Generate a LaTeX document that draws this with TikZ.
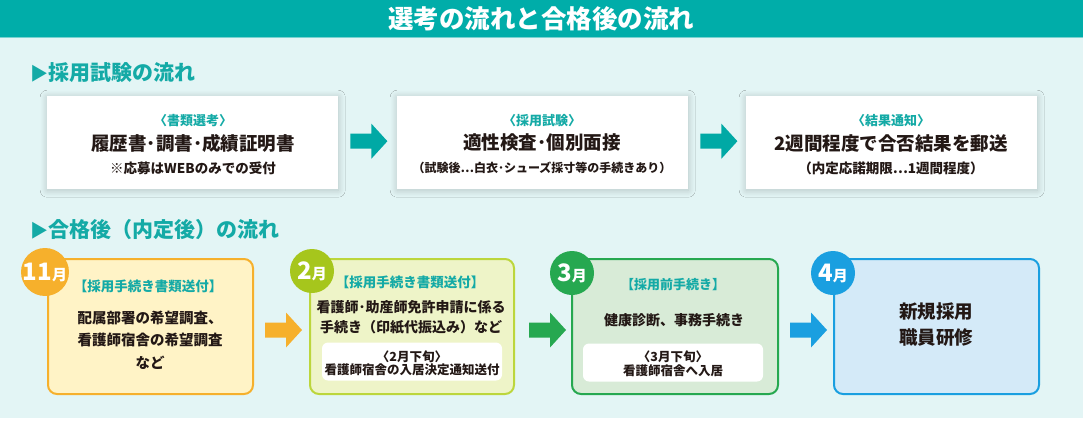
\documentclass[tikz,border=0pt]{standalone}
\usepackage{fontspec}
\setmainfont{Noto Sans CJK JP}
\usepackage{tikz}
\usetikzlibrary{calc,shadows.blur}

\definecolor{headteal}{RGB}{0,173,169}
\definecolor{headline}{RGB}{120,210,208}
\definecolor{bgcyan}{RGB}{227,245,245}
\definecolor{tealtxt}{RGB}{20,170,166}
\definecolor{ink}{RGB}{35,24,21}
\definecolor{arrteal}{RGB}{0,169,165}
\definecolor{ornfill}{RGB}{255,243,198}
\definecolor{orn}{RGB}{246,176,44}
\definecolor{lmfill}{RGB}{238,244,200}
\definecolor{lmline}{RGB}{188,214,60}
\definecolor{lm}{RGB}{166,198,28}
\definecolor{grnfill}{RGB}{216,235,215}
\definecolor{grn}{RGB}{38,168,80}
\definecolor{bluefill}{RGB}{212,234,248}
\definecolor{blu}{RGB}{26,159,224}

\tikzset{
  barrow/.pic={\fill (0,-7.5) -- (21,-7.5) -- (21,-17.5) -- (37,0) -- (21,17.5) -- (21,7.5) -- (0,7.5) -- cycle;}
}

\begin{document}
\begin{tikzpicture}[x=1pt, y=-1pt, every node/.style={inner sep=0pt, text=ink},
	head/.style={anchor=west, text=tealtxt, font=\fontsize{21}{21}\selectfont\bfseries},
	lbl/.style={text=tealtxt, font=\fontsize{13}{15}\selectfont\bfseries},
	main/.style={font=\fontsize{18.5}{20}\selectfont\bfseries},
	note/.style={font=\fontsize{13.5}{14}\selectfont\bfseries},
	card/.style={anchor=north west, fill=white, minimum width=291pt, minimum height=93pt,
		blur shadow={shadow xshift=0pt, shadow yshift=-1pt, shadow blur radius=7pt, shadow blur steps=10, shadow opacity=20}},
	stage/.style={anchor=north west, rounded corners=9pt, line width=2pt, minimum width=205pt, minimum height=135pt},
	badge/.style={circle, minimum size=44pt, text=white, font=\bfseries},
	memo/.style={fill=white, rounded corners=6pt, minimum width=180pt, minimum height=38pt},
	body/.style={align=center, font=\fontsize{14.5}{22.5}\selectfont\bfseries}]
	\useasboundingbox (0,0) rectangle (1083,421);
	\fill[bgcyan] (0,0) rectangle (1083,418);
	\fill[headteal] (0,0) rectangle (1083,37);
	\draw[headline, line width=1pt] (0,37.5) -- (1083,37.5);
	\node[text=white, font=\fontsize{25.5}{25}\selectfont\bfseries] (title) at (541,19) {選考の流れと合格後の流れ};

	% 採用試験
	\node[head] (h1) at (30,73) {{\fontsize{18}{18}\selectfont ▶}採用試験の流れ};
	\node[card] (card1) at (47,96) {};
	\node[card] (card2) at (397,96) {};
	\node[card] (card3) at (746,96) {};
	\node[lbl] (c1t) at (193,121) {〈書類選考〉};
	\node[main] (c1m) at (193,143) {履歴書･調書･成績証明書};
	\node[note] (c1s) at (193,168) {※応募はWEBのみでの受付};
	\node[lbl] (c2t) at (542,121) {〈採用試験〉};
	\node[main] (c2m) at (542,143) {適性検査･個別面接};
	\node[note, font=\fontsize{12}{14}\selectfont\bfseries] (c2s) at (542,168) {（試験後…白衣･シューズ採寸等の手続きあり）};
	\node[lbl] (c3t) at (891,121) {〈結果通知〉};
	\node[main] (c3m) at (891,143) {2週間程度で合否結果を郵送};
	\node[note] (c3s) at (891,168) {（内定応諾期限…1週間程度）};
	\pic[color=arrteal] at ($(card1.east)+(12,-1.5)$) {barrow};
	\pic[color=arrteal] at ($(card2.east)+(12,-1.5)$) {barrow};

	% 合格後
	\node[head] (h2) at (30,230) {{\fontsize{18}{18}\selectfont ▶}合格後（内定後）の流れ};
	\node[stage, draw=orn, fill=ornfill] (nov) at (47,258) {};
	\node[stage, draw=lmline, fill=lmfill, minimum width=204pt] (feb) at (309,258) {};
	\node[stage, draw=grn, fill=grnfill, minimum width=206pt] (mar) at (571,258) {};
	\node[stage, draw=blu, fill=bluefill] (apr) at (833,258) {};
	\node[badge, fill=orn] (b11) at (45,272) {{\fontsize{24}{24}\selectfont 11}{\fontsize{15}{15}\selectfont 月}};
	\node[badge, fill=lm] (b2) at (312,271) {{\fontsize{24}{24}\selectfont 2}{\fontsize{15}{15}\selectfont 月}};
	\node[badge, fill=grn] (b3) at (572,273) {{\fontsize{24}{24}\selectfont 3}{\fontsize{15}{15}\selectfont 月}};
	\node[badge, fill=blu] (b4) at (833,273) {{\fontsize{24}{24}\selectfont 4}{\fontsize{15}{15}\selectfont 月}};

	\node[lbl, font=\fontsize{13.5}{15}\selectfont\bfseries] (novt) at (148,286) {【採用手続き書類送付】};
	\node[body] (novb) at (150,340) {配属部署の希望調査、\\看護師宿舎の希望調査\\など};

	\node[lbl, font=\fontsize{13.5}{15}\selectfont\bfseries] (febt) at (410,282) {【採用手続き書類送付】};
	\node[body, font=\fontsize{14}{20}\selectfont\bfseries] (febb) at (411,317) {看護師･助産師免許申請に係る\\手続き（印紙代振込み）など};
	\node[memo] (febm) at (412,361.5) {};
	\node[note, align=center, font=\fontsize{12.5}{13.5}\selectfont\bfseries] (febn) at (412,363.5) {〈2月下旬〉\\看護師宿舎の入居決定通知送付};

	\node[lbl] (mart) at (673,285) {【採用前手続き】};
	\node[body, font=\fontsize{14}{20}\selectfont\bfseries] (marb) at (674,320) {健康診断、事務手続き};
	\node[memo] (marm) at (673,362.5) {};
	\node[note, align=center, font=\fontsize{12.5}{13.5}\selectfont\bfseries] (marn) at (673,364) {〈3月下旬〉\\看護師宿舎へ入居};

	\node[body, font=\fontsize{18.5}{26}\selectfont\bfseries] (aprb) at (936,325) {新規採用\\職員研修};

	\pic[color=orn] at ($(nov.east)+(11,3.5)$) {barrow};
	\pic[color=grn] at ($(feb.east)+(14,3.5)$) {barrow};
	\pic[color=blu] at ($(mar.east)+(11,3.5)$) {barrow};
\end{tikzpicture}
\end{document}
